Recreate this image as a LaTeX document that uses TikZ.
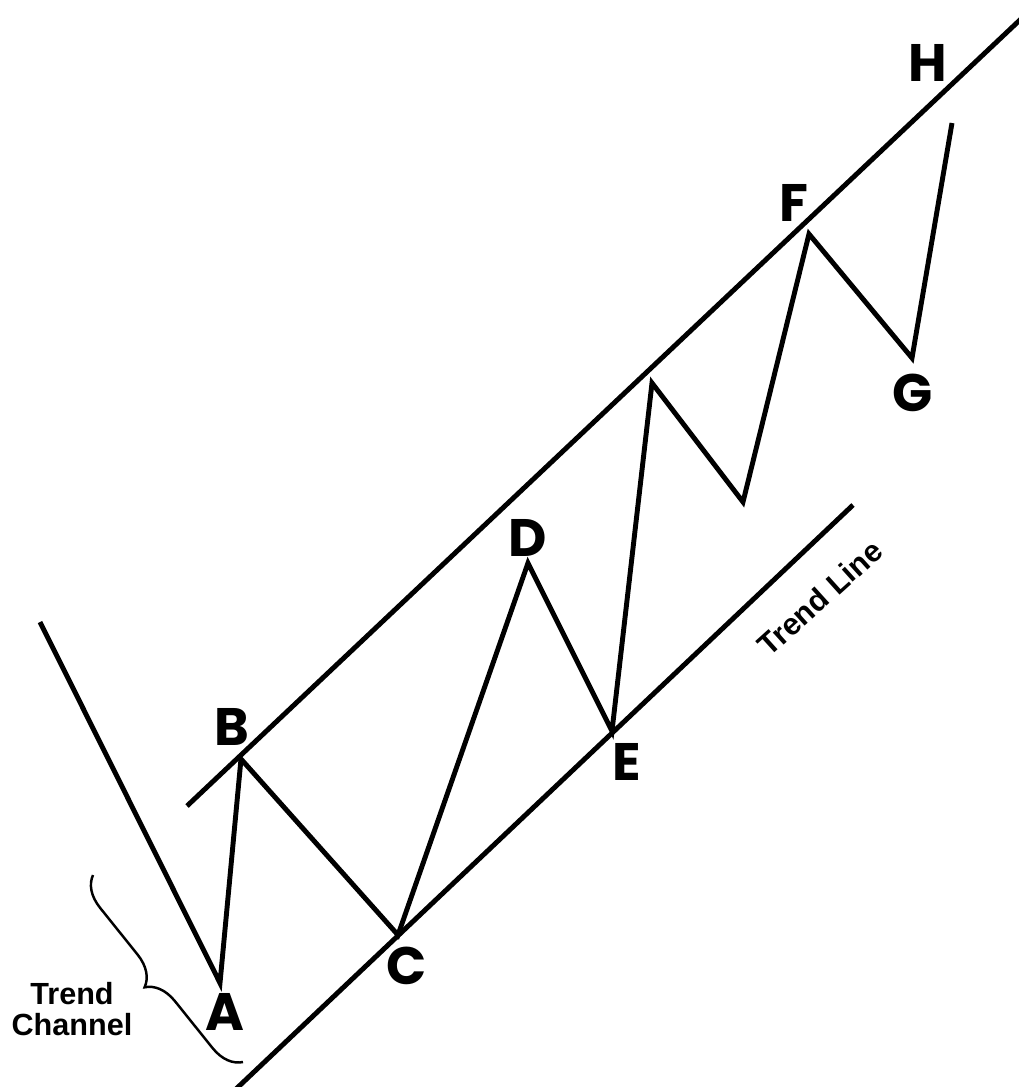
\documentclass[tikz,border=0pt]{standalone}
\usepackage{fontspec}
\setmainfont{Liberation Sans}
\newfontfamily\ptfont{Poppins}
\usetikzlibrary{decorations.pathreplacing}

\begin{document}
\begin{tikzpicture}[x=0.01cm, y=-0.01cm,
    every node/.style={inner sep=0pt},
    wave/.style={line width=1.4pt, miter limit=5},
    chan/.style={line width=1.4pt},
    pt/.style={font=\ptfont\bfseries\fontsize{15}{15}\selectfont},
    note/.style={font=\bfseries\fontsize{8.7}{8.6}\selectfont, align=center},
    brc/.style={decorate, decoration={brace, amplitude=0.3cm}, line width=0.7pt}]

  \useasboundingbox (0,0) rectangle (1019,1087);

  % turning points of the price wave
  \coordinate (s) at (40,622);
  \coordinate (a) at (220,983);
  \coordinate (b) at (241,759);
  \coordinate (c) at (398,935);
  \coordinate (d) at (528,563);
  \coordinate (e) at (612,731);
  \coordinate (p) at (652,383);
  \coordinate (q) at (743,502);
  \coordinate (f) at (809,234);
  \coordinate (g) at (912,358);
  \coordinate (h) at (952,123);

  % channel ends
  \coordinate (up0) at (187,806);
  \coordinate (up1) at (1022,18);
  \coordinate (lo0) at (236,1089);
  \coordinate (lo1) at (853,505);
  \coordinate (br0) at (243,1062);
  \coordinate (br1) at (93,875);

  \draw[chan] (up0) -- (up1);
  \draw[chan] (lo0) -- (lo1);
  \draw[wave] (s) -- (a) -- (b) -- (c) -- (d) -- (e) -- (p) -- (q) -- (f) -- (g) -- (h);

  \node[pt] (la) at (225,1012) {A};
  \node[pt] (lb) at (232,727) {B};
  \node[pt] (lc) at (407,966) {C};
  \node[pt] (ld) at (528,538) {D};
  \node[pt] (le) at (627,762) {E};
  \node[pt] (lf) at (794,203) {F};
  \node[pt] (lg) at (913,393) {G};
  \node[pt] (lh) at (928,63) {H};

  \node[note, rotate=42] (tline) at (820,598) {Trend Line};
  \node[note] (tchan) at (72,1009) {Trend\\Channel};

  \draw[brc] (br0) -- (br1);
\end{tikzpicture}
\end{document}
